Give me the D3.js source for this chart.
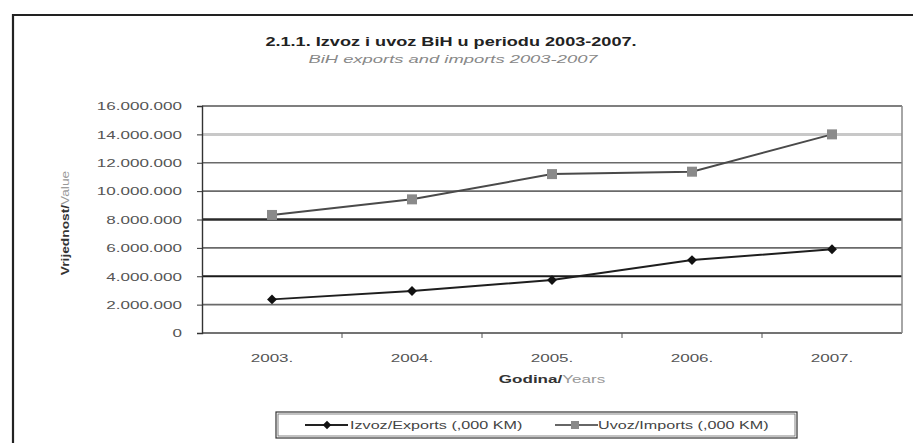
<!DOCTYPE html>
<html>
<head>
<meta charset="utf-8">
<script src="https://cdn.jsdelivr.net/npm/d3@7"></script>
<style>
  html, body { margin: 0; padding: 0; background: #fff; }
  svg { display: block; font-family: "Liberation Sans", Arial, sans-serif; }
</style>
</head>
<body>
<svg id="chart" width="913" height="443"></svg>
<script>
// Years and trade values (thousand KM)
const years = ["2003.", "2004.", "2005.", "2006.", "2007."];
const exportsKM = [2370000, 2960000, 3730000, 5140000, 5900000];
const importsKM = [8320000, 9420000, 11200000, 11370000, 14000000];
const yTicks = [0, 2000000, 4000000, 6000000, 8000000, 10000000, 12000000, 14000000, 16000000];
const seriesNames = ["Izvoz/Exports (,000 KM)", "Uvoz/Imports (,000 KM)"];

const svg = d3.select("#chart");
const W = 913, H = 443;
const SX = 1.55; // horizontal stretch of the printed lettering

// places a text element at (x,y), widened horizontally by k, optionally rotated
function placeText(sel, x, y, k, rot) {
  sel.attr("x", 0).attr("y", 0)
    .attr("transform", `translate(${x},${y})${rot ? ` rotate(${rot})` : ""} scale(${k},1)`);
  return sel;
}

// outer frame (top and left edges)
svg.append("path")
  .attr("d", `M13,${H} L13,15 L${W},15`)
  .attr("fill", "none").attr("stroke", "#222").attr("stroke-width", 2.2);

const plot = { left: 202, right: 902, top: 106, bottom: 333 };

const x = d3.scaleBand().domain(years).range([plot.left, plot.right]);
const y = d3.scaleLinear().domain([0, 16000000]).range([plot.bottom, plot.top]);
const fmt = v => d3.format(",")(v).replace(/,/g, ".");

// gridlines with the varying weights of the printed chart
const gridStyle = v => {
  if (v === 14000000) return { c: "#c8c8c8", w: 3 };
  if (v === 8000000) return { c: "#2a2a2a", w: 2.4 };
  if (v === 4000000) return { c: "#1a1a1a", w: 2 };
  if (v === 0) return { c: "#444", w: 1.5 };
  if (v === 16000000) return { c: "#555", w: 1.6 };
  return { c: "#6a6a6a", w: 1.6 };
};
svg.append("g").selectAll("line").data(yTicks).join("line")
  .attr("x1", plot.left).attr("x2", plot.right)
  .attr("y1", d => y(d)).attr("y2", d => y(d))
  .attr("stroke", d => gridStyle(d).c)
  .attr("stroke-width", d => gridStyle(d).w);

// right edge of plot
svg.append("line")
  .attr("x1", plot.right).attr("x2", plot.right)
  .attr("y1", plot.top).attr("y2", plot.bottom)
  .attr("stroke", "#888").attr("stroke-width", 1.5);

// y axis
const yAxis = d3.axisLeft(y).tickValues(yTicks).tickFormat(fmt).tickSize(5).tickPadding(20);
const gy = svg.append("g").attr("transform", `translate(${plot.left},0)`).call(yAxis);
gy.select(".domain").attr("stroke", "#333").attr("stroke-width", 1.4);
gy.selectAll(".tick line").attr("stroke", "#333");
gy.selectAll(".tick text").each(function () {
  const t = d3.select(this);
  t.attr("fill", "#555").attr("font-size", 11).attr("dy", null)
    .attr("font-family", "Liberation Sans, Arial, sans-serif")
    .attr("dominant-baseline", "central");
  placeText(t, -20, 0, SX);
});

// x axis: ticks on category boundaries
const gx = svg.append("g").attr("transform", `translate(0,${plot.bottom})`);
const bounds = d3.range(years.length + 1).map(i => plot.left + i * x.bandwidth());
gx.selectAll("line.tk").data(bounds.slice(1, -1)).join("line").attr("class", "tk")
  .attr("x1", d => d).attr("x2", d => d).attr("y1", 0).attr("y2", 5)
  .attr("stroke", "#555").attr("stroke-width", 1);
gx.selectAll("text").data(years).join("text")
  .attr("text-anchor", "middle").attr("fill", "#555").attr("font-size", 11)
  .text(d => d)
  .each(function (d) { placeText(d3.select(this), x(d) + x.bandwidth() / 2, 29, SX); });

// titles
placeText(svg.append("text"), 451, 46, 1.45)
  .attr("text-anchor", "middle").attr("font-weight", "bold").attr("font-size", 12.5).attr("fill", "#222")
  .text("2.1.1. Izvoz i uvoz BiH u periodu 2003-2007.");
placeText(svg.append("text"), 453, 63, 1.6)
  .attr("text-anchor", "middle").attr("font-style", "italic").attr("font-size", 11.5).attr("fill", "#888")
  .text("BiH exports and imports 2003-2007");

// axis titles
const xt = placeText(svg.append("text"), 552, 383, SX).attr("text-anchor", "middle").attr("font-size", 11);
xt.append("tspan").attr("font-weight", "bold").attr("fill", "#333").text("Godina/");
xt.append("tspan").attr("fill", "#999").text("Years");

const yt = placeText(svg.append("text"), 69, 223, 1.25, -90).attr("text-anchor", "middle").attr("font-size", 11);
yt.append("tspan").attr("font-weight", "bold").attr("fill", "#333").text("Vrijednost/");
yt.append("tspan").attr("fill", "#999").text("Value");

// series
const cx = d => x(d) + x.bandwidth() / 2;
const line = d3.line().x(d => cx(d.year)).y(d => y(d.v));
const expData = years.map((yr, i) => ({ year: yr, v: exportsKM[i] }));
const impData = years.map((yr, i) => ({ year: yr, v: importsKM[i] }));

svg.append("path").datum(impData).attr("d", line)
  .attr("fill", "none").attr("stroke", "#4a4a4a").attr("stroke-width", 2);
svg.append("path").datum(expData).attr("d", line)
  .attr("fill", "none").attr("stroke", "#1e1e1e").attr("stroke-width", 2);

svg.append("g").selectAll("rect").data(impData).join("rect")
  .attr("x", d => cx(d.year) - 5).attr("y", d => y(d.v) - 5)
  .attr("width", 10).attr("height", 10).attr("fill", "#8a8a8a");
svg.append("g").selectAll("rect").data(expData).join("rect")
  .attr("x", -3.5).attr("y", -3.5).attr("width", 7).attr("height", 7)
  .attr("transform", d => `translate(${cx(d.year)},${y(d.v)}) rotate(45)`)
  .attr("fill", "#111");

// legend
const lg = svg.append("g");
lg.append("rect").attr("x", 276).attr("y", 412).attr("width", 521).attr("height", 26)
  .attr("fill", "#fff").attr("stroke", "#333").attr("stroke-width", 1.2);
lg.append("rect").attr("x", 278).attr("y", 414).attr("width", 517).attr("height", 22)
  .attr("fill", "none").attr("stroke", "#666").attr("stroke-width", 0.8);

const items = [
  { x0: 305, name: seriesNames[0], stroke: "#222", sym: "diamond", fill: "#111", tx: 350 },
  { x0: 555, name: seriesNames[1], stroke: "#666", sym: "square", fill: "#8a8a8a", tx: 598 }
];
items.forEach(it => {
  lg.append("line").attr("x1", it.x0).attr("x2", it.x0 + 43).attr("y1", 425).attr("y2", 425)
    .attr("stroke", it.stroke).attr("stroke-width", 2);
  if (it.sym === "diamond") {
    lg.append("rect").attr("x", -3).attr("y", -3).attr("width", 6).attr("height", 6)
      .attr("transform", `translate(${it.x0 + 22},425) rotate(45)`).attr("fill", it.fill);
  } else {
    lg.append("rect").attr("x", it.x0 + 16).attr("y", 421).attr("width", 8).attr("height", 8).attr("fill", it.fill);
  }
  placeText(lg.append("text"), it.tx, 429, 1.47)
    .attr("font-size", 11).attr("fill", "#444").text(it.name);
});
</script>
</body>
</html>
